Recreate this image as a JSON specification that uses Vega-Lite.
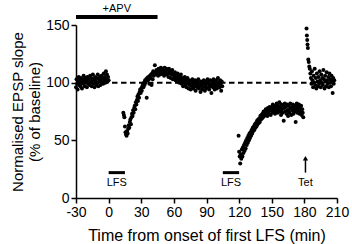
{
  "$schema": "https://vega.github.io/schema/vega-lite/v6.json",
  "width": 261,
  "height": 173,
  "autosize": {"type": "none"},
  "padding": {"left": 76, "top": 25, "right": 15, "bottom": 46},
  "config": {
    "view": {"stroke": null},
    "font": "Liberation Sans",
    "axis": {
      "domainColor": "black", "domainWidth": 1.5, "tickColor": "black", "tickWidth": 1.5, "tickSize": 5,
      "labelFont": "Liberation Sans", "labelFontSize": 14, "labelColor": "black",
      "titleFont": "Liberation Sans", "titleFontSize": 15.5, "titleFontWeight": "normal", "titleColor": "black",
      "grid": false, "labelOverlap": false, "labelFlush": false
    }
  },
  "datasets": {
    "slope": [
      {"x":-30,"y":96},{"x":-29.5,"y":103},{"x":-29,"y":99},{"x":-28.5,"y":94},{"x":-28,"y":101},{"x":-27.5,"y":105},{"x":-27,"y":98},{"x":-26.5,"y":102},{"x":-26,"y":97},{"x":-25.5,"y":104},
      {"x":-25,"y":100},{"x":-24.5,"y":95},{"x":-24,"y":103},{"x":-23.5,"y":99},{"x":-23,"y":106},{"x":-22.5,"y":101},{"x":-22,"y":97},{"x":-21.5,"y":104},{"x":-21,"y":100},{"x":-20.5,"y":102},
      {"x":-20,"y":96},{"x":-19.5,"y":105},{"x":-19,"y":99},{"x":-18.5,"y":103},{"x":-18,"y":101},{"x":-17.5,"y":98},{"x":-17,"y":106},{"x":-16.5,"y":100},{"x":-16,"y":104},{"x":-15.5,"y":97},
      {"x":-15,"y":102},{"x":-14.5,"y":107},{"x":-14,"y":99},{"x":-13.5,"y":103},{"x":-13,"y":96},{"x":-12.5,"y":105},{"x":-12,"y":101},{"x":-11.5,"y":98},{"x":-11,"y":104},{"x":-10.5,"y":100},
      {"x":-10,"y":107},{"x":-9.5,"y":97},{"x":-9,"y":103},{"x":-8.5,"y":101},{"x":-8,"y":105},{"x":-7.5,"y":98},{"x":-7,"y":102},{"x":-6.5,"y":106},{"x":-6,"y":100},{"x":-5.5,"y":104},
      {"x":-5,"y":99},{"x":-4.5,"y":108},{"x":-4,"y":102},{"x":-3.5,"y":105},{"x":-3,"y":100},{"x":-2.5,"y":110},{"x":-2,"y":103},{"x":-1.5,"y":107},{"x":-1,"y":101},{"x":-0.5,"y":105},{"x":0,"y":102},
      {"x":13.5,"y":74},{"x":14,"y":72},{"x":14.5,"y":70},{"x":15,"y":62},{"x":15.5,"y":57},{"x":16,"y":55},{"x":16.5,"y":54},{"x":17,"y":58},{"x":17.5,"y":56},{"x":18,"y":60},
      {"x":18.5,"y":63},{"x":19,"y":61},{"x":19.5,"y":66},{"x":20,"y":68},{"x":20.5,"y":64},{"x":21,"y":70},{"x":21.5,"y":73},{"x":22,"y":71},{"x":22.5,"y":76},{"x":23,"y":74},
      {"x":23.5,"y":78},{"x":24,"y":80},{"x":24.5,"y":77},{"x":25,"y":83},{"x":25.5,"y":81},{"x":26,"y":85},{"x":26.5,"y":88},{"x":27,"y":84},{"x":27.5,"y":90},{"x":28,"y":87},
      {"x":28.5,"y":92},{"x":29,"y":94},{"x":29.5,"y":91},{"x":30,"y":95},{"x":30.5,"y":93},{"x":31,"y":97},{"x":31.5,"y":99},{"x":32,"y":96},{"x":32.5,"y":100},{"x":33,"y":98},
      {"x":33.5,"y":102},{"x":34,"y":100},{"x":34.5,"y":103},{"x":35,"y":87},{"x":35.5,"y":104},{"x":36,"y":102},{"x":36.5,"y":105},{"x":37,"y":103},{"x":37.5,"y":99},{"x":38,"y":106},
      {"x":38.5,"y":104},{"x":39,"y":107},{"x":39.5,"y":98},{"x":40,"y":108},{"x":40.5,"y":103},{"x":41,"y":110},{"x":41.5,"y":106},{"x":42,"y":108},{"x":42.5,"y":115},{"x":43,"y":109},
      {"x":43.5,"y":107},{"x":44,"y":111},{"x":44.5,"y":108},{"x":45,"y":110},{"x":45.5,"y":106},{"x":46,"y":112},{"x":46.5,"y":109},{"x":47,"y":111},{"x":47.5,"y":107},{"x":48,"y":113},
      {"x":48.5,"y":110},{"x":49,"y":108},{"x":49.5,"y":112},{"x":50,"y":109},{"x":50.5,"y":111},{"x":51,"y":106},{"x":51.5,"y":113},{"x":52,"y":110},{"x":52.5,"y":108},{"x":53,"y":112},
      {"x":53.5,"y":107},{"x":54,"y":111},{"x":54.5,"y":109},{"x":55,"y":105},{"x":55.5,"y":112},{"x":56,"y":108},{"x":56.5,"y":110},{"x":57,"y":104},{"x":57.5,"y":109},{"x":58,"y":107},
      {"x":58.5,"y":111},{"x":59,"y":103},{"x":59.5,"y":108},{"x":60,"y":106},{"x":60.5,"y":104},{"x":61,"y":109},{"x":61.5,"y":102},{"x":62,"y":107},{"x":62.5,"y":105},{"x":63,"y":101},
      {"x":63.5,"y":108},{"x":64,"y":103},{"x":64.5,"y":106},{"x":65,"y":100},{"x":65.5,"y":105},{"x":66,"y":102},{"x":66.5,"y":107},{"x":67,"y":99},{"x":67.5,"y":104},{"x":68,"y":101},
      {"x":68.5,"y":97},{"x":69,"y":103},{"x":69.5,"y":100},{"x":70,"y":105},{"x":70.5,"y":98},{"x":71,"y":102},{"x":71.5,"y":96},{"x":72,"y":101},{"x":72.5,"y":104},{"x":73,"y":99},
      {"x":73.5,"y":95},{"x":74,"y":102},{"x":74.5,"y":98},{"x":75,"y":100},{"x":75.5,"y":94},{"x":76,"y":101},{"x":76.5,"y":97},{"x":77,"y":103},{"x":77.5,"y":99},{"x":78,"y":95},
      {"x":78.5,"y":100},{"x":79,"y":97},{"x":79.5,"y":102},{"x":80,"y":93},{"x":80.5,"y":99},{"x":81,"y":101},{"x":81.5,"y":96},{"x":82,"y":98},{"x":82.5,"y":103},{"x":83,"y":95},
      {"x":83.5,"y":100},{"x":84,"y":97},{"x":84.5,"y":92},{"x":85,"y":101},{"x":85.5,"y":98},{"x":86,"y":94},{"x":86.5,"y":100},{"x":87,"y":96},{"x":87.5,"y":102},{"x":88,"y":99},
      {"x":88.5,"y":93},{"x":89,"y":97},{"x":89.5,"y":101},{"x":90,"y":95},{"x":90.5,"y":99},{"x":91,"y":103},{"x":91.5,"y":96},{"x":92,"y":100},{"x":92.5,"y":94},{"x":93,"y":98},
      {"x":93.5,"y":102},{"x":94,"y":97},{"x":94.5,"y":91},{"x":95,"y":99},{"x":95.5,"y":101},{"x":96,"y":96},{"x":96.5,"y":103},{"x":97,"y":98},{"x":97.5,"y":94},{"x":98,"y":100},
      {"x":98.5,"y":97},{"x":99,"y":102},{"x":99.5,"y":95},{"x":100,"y":99},{"x":100.5,"y":104},{"x":101,"y":97},{"x":101.5,"y":100},{"x":102,"y":96},{"x":102.5,"y":102},{"x":103,"y":99},
      {"x":103.5,"y":93},{"x":104,"y":101},{"x":104.5,"y":97},
      {"x":119.5,"y":54},{"x":120,"y":40},{"x":120.5,"y":36},{"x":121,"y":30},{"x":121.5,"y":38},{"x":122,"y":34},{"x":122.5,"y":42},{"x":123,"y":36},{"x":123.5,"y":44},{"x":124,"y":39},
      {"x":124.5,"y":46},{"x":125,"y":41},{"x":125.5,"y":48},{"x":126,"y":43},{"x":126.5,"y":50},{"x":127,"y":46},{"x":127.5,"y":52},{"x":128,"y":48},{"x":128.5,"y":54},{"x":129,"y":50},
      {"x":129.5,"y":56},{"x":130,"y":52},{"x":130.5,"y":57},{"x":131,"y":54},{"x":131.5,"y":59},{"x":132,"y":56},{"x":132.5,"y":61},{"x":133,"y":58},{"x":133.5,"y":62},{"x":134,"y":59},
      {"x":134.5,"y":64},{"x":135,"y":61},{"x":135.5,"y":65},{"x":136,"y":62},{"x":136.5,"y":67},{"x":137,"y":64},{"x":137.5,"y":68},{"x":138,"y":65},{"x":138.5,"y":69},{"x":139,"y":66},
      {"x":139.5,"y":71},{"x":140,"y":68},{"x":140.5,"y":72},{"x":141,"y":69},{"x":141.5,"y":73},{"x":142,"y":70},{"x":142.5,"y":75},{"x":143,"y":71},{"x":143.5,"y":74},{"x":144,"y":72},
      {"x":144.5,"y":77},{"x":145,"y":73},{"x":145.5,"y":76},{"x":146,"y":71},{"x":146.5,"y":78},{"x":147,"y":74},{"x":147.5,"y":76},{"x":148,"y":79},{"x":148.5,"y":78},{"x":149,"y":72},
      {"x":149.5,"y":76},{"x":150,"y":79},{"x":150.5,"y":74},{"x":151,"y":81},{"x":151.5,"y":77},{"x":152,"y":75},{"x":152.5,"y":79},{"x":153,"y":73},{"x":153.5,"y":80},{"x":154,"y":76},
      {"x":154.5,"y":82},{"x":155,"y":78},{"x":155.5,"y":74},{"x":156,"y":80},{"x":156.5,"y":77},{"x":157,"y":83},{"x":157.5,"y":75},{"x":158,"y":79},{"x":158.5,"y":72},{"x":159,"y":81},
      {"x":159.5,"y":77},{"x":160,"y":74},{"x":160.5,"y":80},{"x":161,"y":67},{"x":161.5,"y":78},{"x":162,"y":82},{"x":162.5,"y":75},{"x":163,"y":79},{"x":163.5,"y":73},{"x":164,"y":81},
      {"x":164.5,"y":76},{"x":165,"y":71},{"x":165.5,"y":80},{"x":166,"y":77},{"x":166.5,"y":74},{"x":167,"y":82},{"x":167.5,"y":78},{"x":168,"y":72},{"x":168.5,"y":79},{"x":169,"y":76},
      {"x":169.5,"y":81},{"x":170,"y":73},{"x":170.5,"y":78},{"x":171,"y":75},{"x":171.5,"y":80},{"x":172,"y":66},{"x":172.5,"y":77},{"x":173,"y":82},{"x":173.5,"y":74},{"x":174,"y":79},
      {"x":174.5,"y":76},{"x":175,"y":81},{"x":175.5,"y":73},{"x":176,"y":78},{"x":176.5,"y":75},{"x":177,"y":80},{"x":177.5,"y":72},{"x":178,"y":77},{"x":178.5,"y":74},{"x":179,"y":70},
      {"x":182,"y":147},{"x":182.3,"y":141},{"x":182.6,"y":137},{"x":182.9,"y":133},{"x":183.2,"y":130},{"x":183.6,"y":120},{"x":184,"y":118},{"x":184.5,"y":114},{"x":185,"y":112},
      {"x":185.5,"y":108},{"x":186,"y":104},{"x":186.5,"y":99},{"x":187,"y":110},{"x":187.5,"y":102},{"x":188,"y":96},{"x":188.5,"y":106},{"x":189,"y":100},{"x":189.5,"y":112},{"x":190,"y":98},
      {"x":190.5,"y":104},{"x":191,"y":95},{"x":191.5,"y":108},{"x":192,"y":101},{"x":192.5,"y":97},{"x":193,"y":105},{"x":193.5,"y":99},{"x":194,"y":110},{"x":194.5,"y":102},{"x":195,"y":96},
      {"x":195.5,"y":107},{"x":196,"y":100},{"x":196.5,"y":104},{"x":197,"y":98},{"x":197.5,"y":111},{"x":198,"y":103},{"x":198.5,"y":95},{"x":199,"y":106},{"x":199.5,"y":101},{"x":200,"y":97},
      {"x":200.5,"y":109},{"x":201,"y":102},{"x":201.5,"y":99},{"x":202,"y":105},{"x":202.5,"y":96},{"x":203,"y":108},{"x":203.5,"y":100},{"x":204,"y":103},{"x":204.5,"y":97},{"x":205,"y":106},
      {"x":205.5,"y":101},{"x":206,"y":91},{"x":206.5,"y":104},{"x":207,"y":99},{"x":207.5,"y":102}
    ],
    "bars": [
      {"x":-30,"x2":45,"y":157,"w":4},
      {"x":0,"x2":15,"y":22,"w":3},
      {"x":105,"x2":120,"y":22,"w":3}
    ],
    "labels": [
      {"x":7.5,"y":164,"text":"+APV"},
      {"x":7.5,"y":13,"text":"LFS"},
      {"x":112.5,"y":13,"text":"LFS"},
      {"x":181,"y":13,"text":"Tet"}
    ],
    "baseline": [{"x":-30,"x2":210,"y":100}],
    "arrow": [{"x":181,"y":22,"y2":33}],
    "arrowhead": [{"x":181,"y":34.5}]
  },
  "encoding": {
    "x": {"field": "x", "type": "quantitative", "scale": {"domain": [-30, 210], "nice": false},
          "axis": {"values": [-30, 0, 30, 60, 90, 120, 150, 180, 210], "labelExpr": "'' + datum.value", "labelOverlap": false, "labelSeparation": 0, "title": "Time from onset of first LFS (min)", "labelPadding": 2, "titlePadding": 8, "titleFontSize": 16}},
    "y": {"field": "y", "type": "quantitative", "scale": {"domain": [0, 150], "nice": false},
          "axis": {"values": [0, 50, 100, 150], "labelOverlap": false, "title": ["Normalised EPSP slope", "(% of baseline)"], "labelPadding": 2, "titlePadding": 3, "titleLineHeight": 17, "titleFontSize": 15}}
  },
  "layer": [
    {
      "data": {"name": "baseline"},
      "mark": {"type": "rule", "color": "black", "strokeWidth": 2, "strokeDash": [5.5, 3.5]},
      "encoding": {"x2": {"field": "x2"}}
    },
    {
      "data": {"name": "slope"},
      "mark": {"type": "circle", "color": "black", "size": 16, "opacity": 1},
      "encoding": {}
    },
    {
      "data": {"name": "bars"},
      "mark": {"type": "rule", "color": "black"},
      "encoding": {
        "x2": {"field": "x2"},
        "strokeWidth": {"field": "w", "type": "quantitative", "scale": null}
      }
    },
    {
      "data": {"name": "labels"},
      "mark": {"type": "text", "color": "black", "fontSize": 11, "font": "Liberation Sans", "baseline": "middle", "align": "center"},
      "encoding": {"text": {"field": "text"}}
    },
    {
      "data": {"name": "arrow"},
      "mark": {"type": "rule", "color": "black", "strokeWidth": 1.5},
      "encoding": {"y2": {"field": "y2"}}
    },
    {
      "data": {"name": "arrowhead"},
      "mark": {"type": "point", "shape": "triangle-up", "filled": true, "color": "black", "size": 28, "opacity": 1},
      "encoding": {}
    }
  ]
}
